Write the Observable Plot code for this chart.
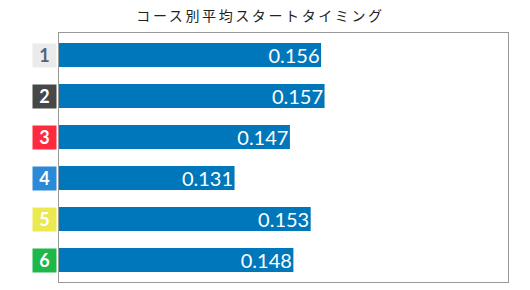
<!DOCTYPE html>
<html><head><meta charset="utf-8">
<script src="https://cdn.jsdelivr.net/npm/d3@7"></script>
<script src="https://cdn.jsdelivr.net/npm/@observablehq/plot@0.6"></script>
<style>
body{margin:0;background:#fff;width:530px;height:290px;overflow:hidden;}
#title{height:30px;line-height:30px;text-align:center;font-family:"Noto Sans CJK JP",sans-serif;font-size:14px;letter-spacing:2.6px;color:#222;padding-left:6px;box-sizing:border-box;width:515px;}
</style></head>
<body>
<div id="title">コース別平均スタートタイミング</div>
<div id="chart"></div>
<script>
const courses = ["1","2","3","4","5","6"];
const values = [0.156, 0.157, 0.147, 0.131, 0.153, 0.148];
const labels = ["0.156","0.157","0.147","0.131","0.153","0.148"];
const boxColors = ["#ebebeb","#474747","#ff2a3f","#2a8ad8","#eaea50","#1db74a"];
const boxText = ["#5a6270","#ffffff","#ffffff","#ffffff","#ffffff","#ffffff"];
const xDomain = [0.08, 0.21];

const data = courses.map((c,i)=>({course:c, value:values[i], label:labels[i], bg:boxColors[i], fg:boxText[i]}));

const chart = Plot.plot({
  width: 530,
  height: 260,
  marginLeft: 58,
  marginRight: 22,
  marginTop: 2,
  marginBottom: 8,
  x: {domain: xDomain, axis: null},
  y: {domain: courses, axis: null, paddingInner: 0.42, paddingOuter: 0.21},
  marks: [
    Plot.barX(data, {x1: xDomain[0], x2: "value", y: "course", fill: "#0077bb", insetLeft: 1}),
    Plot.text(data, {x: "value", y: "course", text: "label", textAnchor: "end", dx: -2, dy: 1, fill: "#fff", fontSize: 20, fontFamily: "Lato, sans-serif", letterSpacing: "0.5px"}),
    Plot.dot(data, {y: "course", frameAnchor: "left", dx: -14, symbol: "square", r: 24/Math.sqrt(Math.PI), fill: "bg", stroke: null}),
    Plot.text(data, {y: "course", text: "course", frameAnchor: "left", textAnchor: "middle", dx: -14, dy: 1, fill: "fg", fontSize: 18, fontWeight: "bold", fontFamily: "Lato, sans-serif"}),
    Plot.frame({stroke: "#999", strokeWidth: 1})
  ]
});
document.getElementById("chart").appendChild(chart);
</script>
</body></html>
